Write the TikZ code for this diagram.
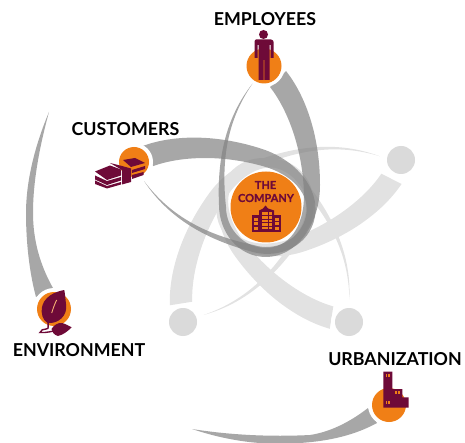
\documentclass[tikz,border=0pt]{standalone}
\usepackage{fontspec}
\setmainfont{Lato}
\newfontfamily\compfont[BoldFeatures={FakeBold=0.5}]{Lato}
\definecolor{maroon}{HTML}{6E0A38}
\definecolor{orangeb}{HTML}{F07F16}
\newcommand{\ribbonpath}{(286,71) .. controls (305,95) and (320,135) .. (320,185)
  .. controls (320,225) and (296,257) .. (266,257)
  .. controls (238,257) and (219,232) .. (219,205)
  .. controls (217,160) and (225,118) .. (253,83)
  .. controls (227,120) and (221,160) .. (226,207)
  .. controls (226,229) and (244,248) .. (266,248)
  .. controls (288,248) and (304,228) .. (304,195)
  .. controls (303,150) and (288,110) .. (270,87) -- cycle}
\tikzset{
  darkribbon/.style={fill={rgb,255:red,130;green,130;blue,130},fill opacity=.7,draw=none},
  lightribbon/.style={fill={rgb,255:red,226;green,226;blue,226},draw=none},
  halo/.style={circle,fill=white,inner sep=0pt,minimum size=#1},
  orangedot/.style={circle,fill=orangeb,inner sep=0pt,minimum size=#1},
  greydot/.style={circle,fill={rgb,255:red,218;green,218;blue,218},inner sep=0pt,minimum size=28pt},
  lab/.style={font=\fontsize{17.8}{20}\selectfont\bfseries,text=black,inner sep=0pt},
  comp/.style={font=\compfont\fontsize{11}{12}\selectfont\bfseries,text=maroon,inner sep=0pt},
  icon/.style={fill=maroon,draw=none},
  win/.style={fill=orangeb,draw=none}
}
\begin{document}
\begin{tikzpicture}[x=1pt,y=-1pt]
\useasboundingbox (0,0) rectangle (465,443);
% light ribbons
\foreach \a in {-72,-144,-216}{
  \fill[lightribbon,rotate around={\a:(266,207)}] \ribbonpath;
}
\node[halo=36pt] (hr) at (401,160) {};
\node[halo=36pt] (hl) at (183,322) {};
\node[halo=36pt] (hm) at (349,322) {};
\node[greydot] (gr) at (401,160) {};
\node[greydot] (gl) at (183,322) {};
\node[greydot] (gm) at (349,322) {};
% dark ribbons
\fill[darkribbon] \ribbonpath;
\fill[darkribbon,rotate around={72:(266,207)}] \ribbonpath;
\fill[darkribbon] (49,112) .. controls (33,150) and (26,185) .. (26,213)
  .. controls (26,245) and (30,275) .. (36,297) -- (53,288)
  .. controls (40,265) and (33,240) .. (33,213)
  .. controls (33,180) and (40,145) .. (49,112) -- cycle;
\fill[darkribbon] (192,429) .. controls (230,435) and (270,437) .. (310,435)
  .. controls (330,432) and (350,422) .. (368,408) -- (377,423)
  .. controls (355,435) and (330,441) .. (300,443)
  .. controls (260,446) and (225,440) .. (192,429) -- cycle;
% discs
\node[halo=42pt] (he) at (264,66) {};
\node[halo=38pt] (hc) at (134,162) {};
\node[halo=42pt] (hn) at (54,309) {};
\node[halo=42pt] (hu) at (389,405) {};
\node[orangedot=35pt] (emp) at (264,66) {};
\node[orangedot=30pt] (cus) at (134,162) {};
\node[orangedot=34pt] (env) at (54,309) {};
\node[orangedot=34pt] (urb) at (389,405) {};
\node[orangedot=71pt] (com) at (266,207) {};
% labels
\node[lab] (lemp) at (265,19) {EMPLOYEES};
\node[lab] (lcus) at (125.5,129) {CUSTOMERS};
\node[lab] (lenv) at (79,350.3) {ENVIRONMENT};
\node[lab] (lurb) at (395,359.5) {URBANIZATION};
\node[comp] (lthe) at (265.5,185) {THE};
\node[comp] (lcom) at (266,198) {COMPANY};
% person
\fill[icon] (263.5,34.5) circle (4.5);
\fill[icon] (256,39.5) -- (271,39.5) .. controls (273,39.5) and (273.5,41) .. (273.5,42)
  -- (273.5,58) -- (270.5,58) -- (270.5,45) -- (269.5,45) -- (269.5,80) -- (264.3,80) -- (264.3,60)
  -- (263.7,60) -- (263.7,80) -- (258.5,80) -- (258.5,45) -- (257.5,45) -- (257.5,58) -- (254.5,58)
  -- (254.5,42) .. controls (254.5,41) and (255,39.5) .. (256,39.5) -- cycle;
% building
\fill[icon] (252.3,215) rectangle (260,232);
\fill[icon] (273,215) rectangle (281,232);
\fill[icon] (259,210.5) -- (263,208.5) -- (265.5,205.5) -- (268,208.5) -- (274,210.5) -- (274,232) -- (259,232) -- cycle;
\foreach \r in {0,1,2,3,4}{
  \foreach \c in {0,1,2}{
    \fill[win] ({261.5+\c*3.8},{212.5+\r*3.6}) rectangle ++(3,2.6);
  }
}
\foreach \r in {0,1,2}{
  \fill[win] (254,{218+\r*4.5}) rectangle ++(4.2,3);
  \fill[win] (275,{218+\r*4.5}) rectangle ++(4.2,3);
}
% money
\fill[icon] (95,171.5) -- (110,165.5) -- (121,169.5) -- (121,175.5) -- (107,180) -- cycle;
\fill[icon] (95,175.5) -- (107,181) -- (121,177) -- (121,180.5) -- (107,185) -- (95,179.5) -- cycle;
\fill[icon] (95,180.5) -- (107,186) -- (121,182) -- (121,184.5) -- (107,188.5) -- (95,184) -- cycle;
\fill[icon] (110,163) -- (122,166) -- (131,168.5) -- (131,182) -- (122,184.5) -- (122,170) -- cycle;
\fill[icon] (123,160) -- (135,158) -- (145,163) -- (131,167) -- cycle;
\fill[icon] (132,170) -- (145,166) -- (145,169) -- (132,173) -- cycle;
\fill[icon] (132,175) -- (143.5,172) -- (143.5,175) -- (132,179) -- cycle;
% leaf
\fill[icon] (64.3,290) .. controls (48,293) and (41,302) .. (41.7,312)
  .. controls (42,319) and (46,322) .. (47.7,323)
  .. controls (58,324) and (68,316) .. (66,304)
  .. controls (65.5,299) and (65,294) .. (64.3,290) -- cycle;
\draw[orangeb!60!white,line width=.9pt] (56.7,300) .. controls (54.5,304) and (53,309) .. (51.7,313);
\draw[maroon,line width=1.4pt] (48.5,321) .. controls (47,326) and (50,329) .. (46,329)
  .. controls (43,329) and (41,330) .. (40,332.5) .. controls (47,333) and (52,331) .. (55,331);
\fill[icon] (51.5,329) .. controls (54,325) and (58,322.5) .. (62,323)
  .. controls (66,324) and (69,326) .. (71.7,327.3)
  .. controls (68,331) and (63,335) .. (58,336) .. controls (54,335) and (52,332) .. (51.5,329) -- cycle;
% factory
\fill[icon] (383.3,371.7) -- (392.3,371.7) -- (392.3,389) -- (402.3,389) -- (402.3,397.3) -- (408.7,397.3)
  -- (408.7,407.7) -- (383.3,407.7) -- cycle;
\fill[win] (385.5,374) rectangle (387.3,377.3);
\fill[win] (388.3,374) rectangle (390.1,377.3);
\fill[win] (395,391) rectangle (396.8,394.3);
\fill[win] (398,391) rectangle (399.8,394.3);
\fill[win] (385.5,400.7) rectangle (387.3,404);
\fill[win] (388.3,400.7) rectangle (390.1,404);
\end{tikzpicture}
\end{document}
